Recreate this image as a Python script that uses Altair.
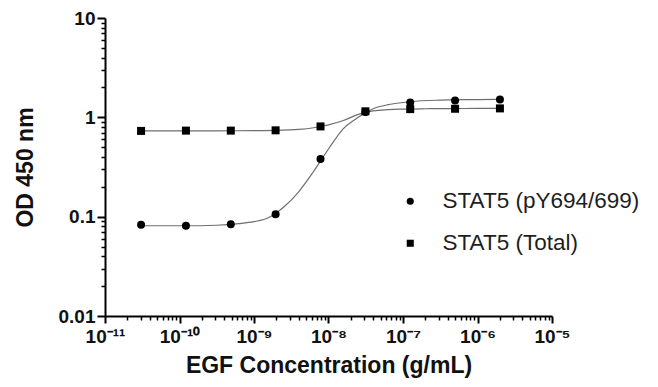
import altair as alt
import pandas as pd
import json

# ---- data ----
series = ["STAT5 (pY694/699)", "STAT5 (Total)"]
conc = [3.05e-11, 1.22e-10, 4.88e-10, 1.95e-9, 7.81e-9, 3.13e-8, 1.25e-7, 5.0e-7, 2.0e-6]
od_py = [0.083, 0.081, 0.084, 0.106, 0.38, 1.13, 1.41, 1.48, 1.51]
od_total = [0.73, 0.735, 0.735, 0.74, 0.81, 1.15, 1.21, 1.22, 1.23]

# fitted curves (log10 concentration, OD)
curve_logx_py = [-10.51, -10.0, -9.5, -9.2, -9.0, -8.8, -8.6, -8.4, -8.2, -8.0, -7.8, -7.6,
                 -7.4, -7.2, -7.0, -6.8, -6.5, -6.2, -6.0, -5.7]
curve_py = [0.081, 0.081, 0.082, 0.085, 0.089, 0.098, 0.125, 0.178, 0.285, 0.48, 0.77, 1.0,
            1.22, 1.34, 1.41, 1.46, 1.49, 1.505, 1.51, 1.515]
curve_logx_total = [-10.51, -10.0, -9.5, -9.0, -8.7, -8.4, -8.2, -8.0, -7.8, -7.6, -7.4,
                    -7.2, -7.0, -6.7, -6.3, -6.0, -5.7]
curve_total = [0.73, 0.73, 0.732, 0.734, 0.738, 0.755, 0.785, 0.84, 0.93, 1.07, 1.16,
               1.195, 1.21, 1.22, 1.225, 1.23, 1.23]

x_major_labels = ["10⁻¹¹", "10⁻¹⁰", "10⁻⁹", "10⁻⁸", "10⁻⁷", "10⁻⁶", "10⁻⁵"]
y_major_labels = ["0.01", "0.1", "1", "10"]

# ---- tables ----
pts = pd.DataFrame({
    "conc": conc + conc,
    "od": od_py + od_total,
    "series": [series[0]] * len(conc) + [series[1]] * len(conc),
})
curves = pd.DataFrame({
    "conc": [10 ** v for v in curve_logx_py] + [10 ** v for v in curve_logx_total],
    "od": curve_py + curve_total,
    "series": [series[0]] * len(curve_py) + [series[1]] * len(curve_total),
    "ord": list(range(len(curve_py))) + list(range(len(curve_total))),
})

x_ticks = []
for n in range(-11, -5):
    for k in range(1, 10):
        x_ticks.append(float(f"{k}e{n}"))
x_ticks.append(1e-5)
y_ticks = []
for n in range(-2, 1):
    for k in range(1, 10):
        y_ticks.append(float(f"{k}e{n}"))
y_ticks.append(10.0)

LOG = "log(datum.value)/LN10"
MAJOR = f"abs({LOG} - round({LOG})) < 0.01"
x_label_expr = f"{MAJOR} ? {json.dumps(x_major_labels, ensure_ascii=False)}[round({LOG})+11] : ''"
y_label_expr = f"{MAJOR} ? {json.dumps(y_major_labels)}[round({LOG})+2] : ''"

FONT = "Liberation Sans"

x_enc = alt.X(
    "conc:Q",
    scale=alt.Scale(type="log", domain=[1e-11, 1e-5], nice=False),
    axis=alt.Axis(
        values=x_ticks, labelExpr=x_label_expr, labelOverlap=False, labelFlush=False,
        tickSize={"condition": {"test": MAJOR, "value": 7}, "value": 4},
        tickWidth={"condition": {"test": MAJOR, "value": 2}, "value": 1.5},
        labelFontSize=19, labelPadding=4,
        title="EGF Concentration (g/mL)", titleFontSize=23, titlePadding=8,
    ),
)
y_enc = alt.Y(
    "od:Q",
    scale=alt.Scale(type="log", domain=[0.01, 10], nice=False),
    axis=alt.Axis(
        values=y_ticks, labelExpr=y_label_expr, labelOverlap=False, labelFlush=False,
        tickSize={"condition": {"test": MAJOR, "value": 8}, "value": 4},
        tickWidth={"condition": {"test": MAJOR, "value": 2}, "value": 1.5},
        labelFontSize=19, labelPadding=2,
        title="OD 450 nm", titleFontSize=23, titlePadding=21,
    ),
)

lines = alt.Chart(curves).mark_line(
    color="#6e6e6e", strokeWidth=1.2, interpolate="monotone"
).encode(x=x_enc, y=y_enc, detail="series:N", order="ord:Q")

points = alt.Chart(pts).mark_point(filled=True, size=64, opacity=1, color="black").encode(
    x=x_enc, y=y_enc,
    shape=alt.Shape(
        "series:N",
        scale=alt.Scale(domain=series, range=["circle", "square"]),
        legend=alt.Legend(
            title=None, orient="none", legendX=294, legendY=172, padding=0,
            labelFont=FONT, labelFontSize=22.5, labelFontWeight="normal", labelColor="#1e1e1e",
            labelLimit=0,
            symbolSize=50, symbolFillColor="black", symbolStrokeColor="black",
            symbolStrokeWidth=0, labelOffset=21, rowPadding=19,
        ),
    ),
)

chart = alt.layer(lines, points).properties(
    width=447, height=298,
    padding={"left": 97, "top": 10, "right": 98, "bottom": 63},
    autosize=alt.AutoSizeParams(type="none"),
).configure_view(stroke=None).configure_axis(
    grid=False, domainColor="black", domainWidth=2, tickColor="black",
    labelColor="#111", titleColor="#111",
    labelFont=FONT, labelFontWeight="bold", titleFont=FONT, titleFontWeight="bold",
)

chart.save("out.html", embed_options={"renderer": "svg", "actions": False})
